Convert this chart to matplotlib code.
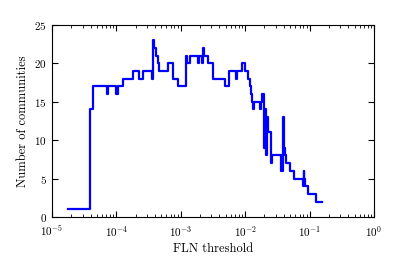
import matplotlib
matplotlib.use("Agg")
import matplotlib.pyplot as plt

plt.rcParams['font.family'] = 'serif'
plt.rcParams['font.serif'] = ['cmr10', 'DejaVu Serif']
plt.rcParams['mathtext.fontset'] = 'cm'
plt.rcParams['axes.formatter.use_mathtext'] = True
plt.rcParams['xtick.direction'] = 'in'
plt.rcParams['ytick.direction'] = 'in'
plt.rcParams['xtick.top'] = True
plt.rcParams['ytick.right'] = True

# FLN threshold at which each community count starts (step plot)
threshold = [1.75e-5, 3.89e-5, 4.39e-5, 7.06e-5, 7.5e-5, 9.86e-5, 1.07e-4,
             1.25e-4, 1.83e-4, 2.27e-4, 2.56e-4, 3.60e-4, 3.66e-4, 3.88e-4,
             4.12e-4, 4.48e-4, 4.65e-4, 6.40e-4, 7.66e-4, 9.14e-4, 1.19e-3,
             1.26e-3, 1.39e-3, 1.83e-3, 1.94e-3, 2.11e-3, 2.19e-3, 2.29e-3,
             2.62e-3, 3.20e-3, 4.85e-3, 5.66e-3, 7.19e-3, 7.59e-3, 8.81e-3,
             9.93e-3, 1.12e-2, 1.19e-2, 1.22e-2, 1.29e-2, 1.33e-2, 1.36e-2,
             1.70e-2, 1.76e-2, 1.85e-2, 1.95e-2, 1.98e-2, 2.05e-2, 2.12e-2,
             2.18e-2, 2.26e-2, 2.48e-2, 2.56e-2, 2.64e-2, 3.60e-2, 3.91e-2,
             4.00e-2, 4.20e-2, 4.31e-2, 4.97e-2, 5.79e-2, 7.90e-2, 8.10e-2,
             8.30e-2, 8.50e-2, 9.55e-2, 0.124, 0.154]
communities = [1, 14, 17, 16, 17, 16, 17,
               18, 19, 18, 19, 18, 23, 22,
               21, 20, 19, 20, 18, 17, 21,
               20, 21, 20, 21, 20, 22, 21,
               20, 18, 17, 19, 18, 19, 20,
               19, 18, 17, 16, 15, 14, 15,
               14, 15, 16, 14, 9, 14, 8,
               13, 11, 8, 7, 8, 6, 13,
               9, 8, 7, 6, 5, 4, 6,
               5, 4, 3, 2, 2]

fig = plt.figure(figsize=(4.15, 2.57), dpi=100)
ax = fig.add_axes([0.125, 0.156, 0.776, 0.747])
ax.plot(threshold, communities, color='blue', lw=1.6, drawstyle='steps-post')
ax.set_xscale('log')
ax.set_xlim(1e-5, 1)
ax.set_ylim(0, 25)
ax.set_yticks([0, 5, 10, 15, 20, 25])
ax.tick_params(which='major', length=4, labelsize=8)
ax.tick_params(which='minor', length=2)
ax.tick_params(axis='x', pad=5)
ax.set_xlabel('FLN threshold', fontsize=9, labelpad=3)
ax.set_ylabel('Number of communities', fontsize=9)

fig.savefig('out.png', dpi=100)
